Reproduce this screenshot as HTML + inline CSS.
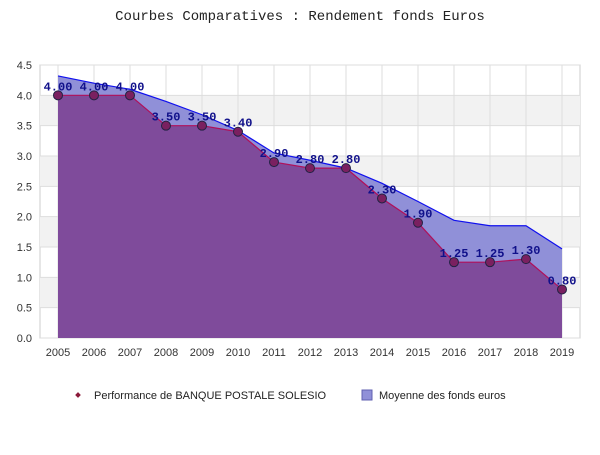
<!DOCTYPE html>
<html><head><meta charset="utf-8"><style>
body{margin:0;background:#fff;width:600px;height:450px;overflow:hidden}
svg{font-family:"Liberation Sans",sans-serif}
</style></head><body>
<svg id="c" width="600" height="450">
<text x="300" y="20" text-anchor="middle" font-family="Liberation Mono, monospace" font-size="14" fill="#222">Courbes Comparatives : Rendement fonds Euros</text>
<g id="plot"></g>
<g>
<rect x="76" y="393" width="4" height="4" fill="#8b1a3a" transform="rotate(45 78 395)"/>
<text x="94" y="399" font-size="11" fill="#222">Performance de BANQUE POSTALE SOLESIO</text>
<rect x="362" y="390" width="10" height="10" fill="#9090d8" stroke="#6060b0"/>
<text x="379" y="399" font-size="11" fill="#222">Moyenne des fonds euros</text>
</g>
</svg>
<script>
const years=[2005,2006,2007,2008,2009,2010,2011,2012,2013,2014,2015,2016,2017,2018,2019];
const perf=[4.00,4.00,4.00,3.50,3.50,3.40,2.90,2.80,2.80,2.30,1.90,1.25,1.25,1.30,0.80];
const moyenne=[4.32,4.2,4.1,3.9,3.68,3.42,3.05,2.93,2.8,2.55,2.25,1.94,1.85,1.85,1.47];
const yTicks=[0,0.5,1,1.5,2,2.5,3,3.5,4,4.5];
const NS="http://www.w3.org/2000/svg";
const L=40,R=580,T=65,B=338;
const x=i=>58+i*36;
const y=v=>B-(v/4.5)*(B-T);
const g=document.getElementById('plot');
function mk(t,a){const e=document.createElementNS(NS,t);for(const k in a)e.setAttribute(k,a[k]);g.appendChild(e);return e;}
const bg=mk('rect',{x:L,y:T,width:R-L,height:B-T,fill:'#fff',stroke:'#ccc'});


for(let i=0;i<yTicks.length-1;i++){
 if(i%2===1){const b=mk('rect',{x:L,y:y(yTicks[i+1]),width:R-L,height:y(yTicks[i])-y(yTicks[i+1]),fill:'#f2f2f2'});
 
 }
}
yTicks.forEach(v=>{
 const l=mk('line',{x1:L,x2:R,y1:y(v),y2:y(v),stroke:'#ddd'});
 
 
 const t=mk('text',{x:L-8,y:y(v)+4,'text-anchor':'end','font-size':11,fill:'#333'});t.textContent=v.toFixed(1);
 
 
});
years.forEach((yr,i)=>{
 const l=mk('line',{x1:x(i),x2:x(i),y1:T,y2:B,stroke:'#ddd'});
 
 
 const t=mk('text',{x:x(i),y:B+18,'text-anchor':'middle','font-size':11,fill:'#333'});t.textContent=yr;
 
 
});
const ptsM=moyenne.map((v,i)=>x(i)+','+y(v)).join(' ');
const ptsP=perf.map((v,i)=>x(i)+','+y(v)).join(' ');
const base=x(years.length-1)+','+B+' '+x(0)+','+B;
const am=mk('polygon',{points:ptsM+' '+base,fill:'#9090d8'});


const ap=mk('polygon',{points:ptsP+' '+base,fill:'#7d3f91','fill-opacity':0.85});


const lm=mk('polyline',{points:ptsM,fill:'none',stroke:'#1010ee','stroke-width':1.2});


const lp=mk('polyline',{points:ptsP,fill:'none',stroke:'#b0105a','stroke-width':1.2});


perf.forEach((v,i)=>{
 const c=mk('circle',{cx:x(i),cy:y(v),r:4.5,fill:'#7a2060',stroke:'#222244','stroke-width':1});
 
 
 const t=mk('text',{x:x(i),y:y(v)-5,'text-anchor':'middle','font-size':12,'font-weight':'bold','font-family':'Liberation Mono, monospace',fill:'#10108a'});
 t.textContent=v.toFixed(2);
 
 
});
</script>
</body></html>
